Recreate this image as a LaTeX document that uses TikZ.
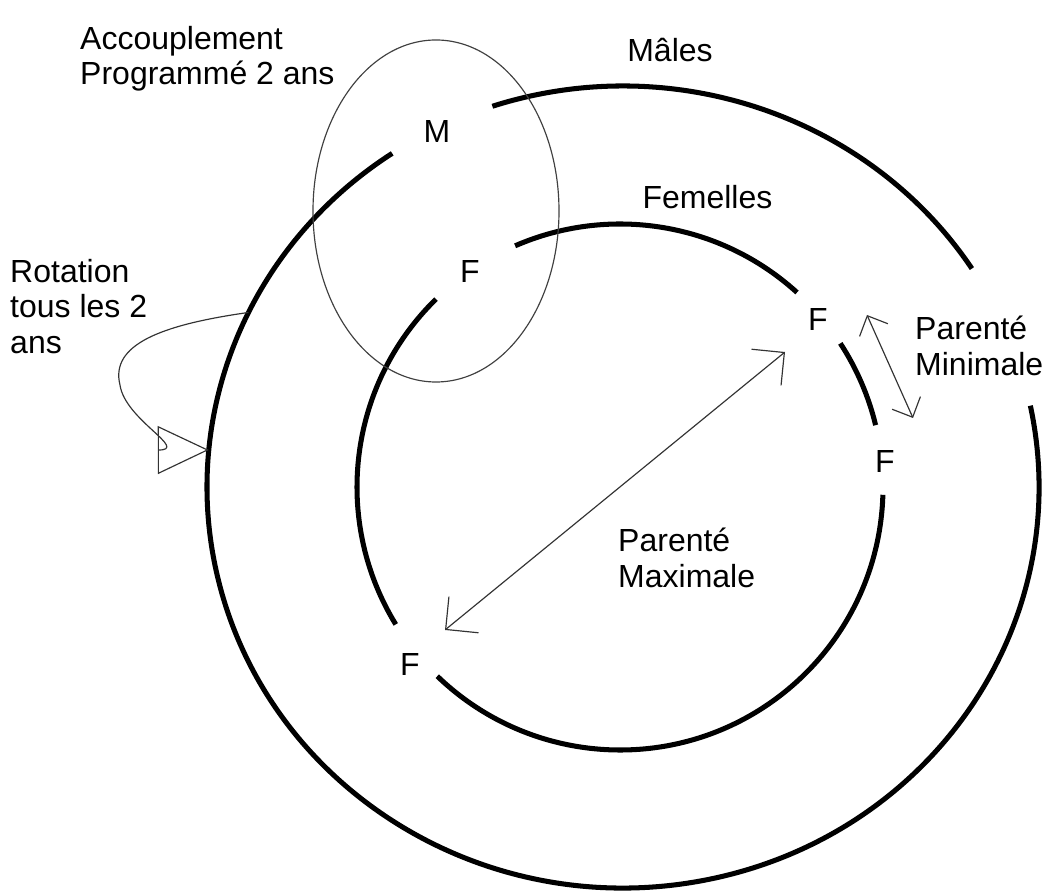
\documentclass[tikz,border=0pt]{standalone}
\usepackage{fontspec}
\setmainfont{Liberation Sans}
\usetikzlibrary{arrows.meta, calc}

\begin{document}
\begin{tikzpicture}[
  x=0.03cm, y=0.03cm,
  ring/.style={line width=4.3pt, black},
  zone/.style={line width=1pt, black!75},
  txt/.style={inner sep=0pt, font=\fontsize{27.3}{30.2}\selectfont, align=left},
  sexe/.style={inner sep=0pt, font=\fontsize{27.3}{30.2}\selectfont},
  maxarrow/.style={{Straight Barb[length=0.7cm, width=1.4cm]}-{Straight Barb[length=0.7cm, width=1.4cm]}, line width=1pt, black!80},
  minarrow/.style={{Straight Barb[length=0.47cm, width=0.93cm]}-{Straight Barb[length=0.47cm, width=0.93cm]}, line width=1pt, black!80},
  rotarrow/.style={-{Triangle[open, length=1.53cm, width=1.44cm]}, line width=1pt, black!80}
]
\useasboundingbox (0,0) rectangle (1050,891);

% centres of the two rings
\coordinate (oc) at (623,404);
\coordinate (ic) at (620,404);

% Outer ring: males
\draw[ring] ($(oc)+(108.3:12.48cm and 12.03cm)$) arc[start angle=108.3, end angle=33, x radius=12.48cm, y radius=12.03cm];
\draw[ring] ($(oc)+(11.7:12.48cm and 12.03cm)$) arc[start angle=11.7, end angle=-236.3, x radius=12.48cm, y radius=12.03cm];

% Inner ring: females
\draw[ring] ($(ic)+(113.5:7.89cm)$) arc[start angle=113.5, end angle=47.7, radius=7.89cm];
\draw[ring] ($(ic)+(33.1:7.89cm)$) arc[start angle=33.1, end angle=13.6, radius=7.89cm];
\draw[ring] ($(ic)+(-1.7:7.89cm)$) arc[start angle=-1.7, end angle=-134, radius=7.89cm];
\draw[ring] ($(ic)+(134.4:7.89cm)$) arc[start angle=134.4, end angle=211.5, radius=7.89cm];

% Mating zone
\draw[zone] (436,680) ellipse [x radius=3.69cm, y radius=5.13cm];

% Labels
\node[txt, anchor=north west] (accoupl) at (80,865) {Accouplement\\Programmé 2 ans};
\node[sexe, anchor=base] (males) at (670,829.5) {Mâles};
\node[sexe, anchor=base] (femelles) at (707.5,682.5) {Femelles};
\node[txt, anchor=north west] (rotation) at (10,632) {Rotation\\tous les 2\\ans};
\node[txt, anchor=north west] (parmin) at (915,575) {Parenté\\Minimale};
\node[txt, anchor=north west] (parmax) at (618,363) {Parenté\\Maximale};

% Animals
\node[sexe] (m) at (437,759) {M};
\node[sexe] (fTop) at (470,619) {F};
\node[sexe] (fTR) at (818,571) {F};
\node[sexe] (fR) at (885,429) {F};
\node[sexe] (fBL) at (410,226) {F};

% Kinship arrows
\draw[maxarrow] ($(fBL)+(35,35)$) -- ($(fTR)+(-33,-32)$);
\draw[minarrow] ($(fTR)+(49,5)$) -- ($(fR)+(28,44)$);

% Rotation of the males
\coordinate (rotA) at ($(oc)+(154.2:12.48cm and 12.03cm)$);
\coordinate (rotB) at ($(oc)+(174.7:12.48cm and 12.03cm)$);
\draw[rotarrow] (rotA) .. controls (160,566) and (110,546) .. (120,506)
  .. controls (125,471) and (190,441) .. (rotB);

\end{tikzpicture}
\end{document}
